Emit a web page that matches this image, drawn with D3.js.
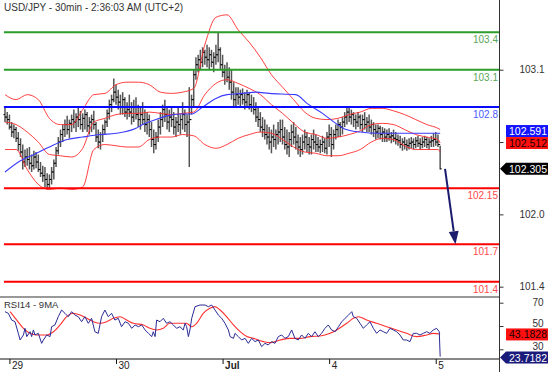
<!DOCTYPE html>
<html><head><meta charset="utf-8">
<script src="https://cdn.jsdelivr.net/npm/d3@7"></script>
<style>
body{margin:0;background:#fff}
svg{display:block}
text{font-family:"Liberation Sans",Arial,sans-serif}
</style>
</head><body>
<svg id="c" width="554" height="372"></svg>
<script>
// ---------- DATA ----------
const title = "USD/JPY - 30min - 2:36:03 AM (UTC+2)";
const firstOpen = 102.74;
const highs = [
102.80,102.76,102.74,102.68,102.66,102.64,102.60,102.55,102.50,102.46,
102.47,102.48,102.42,102.45,102.44,102.42,102.36,102.33,102.32,102.27,
102.26,102.32,102.38,102.48,102.56,102.62,102.66,102.70,102.73,102.70,
102.74,102.78,102.75,102.80,102.77,102.75,102.78,102.76,102.72,102.74,
102.77,102.68,102.62,102.60,102.66,102.70,102.78,102.86,102.90,103.03,
102.98,102.94,102.90,102.92,102.88,102.84,102.90,102.84,102.86,102.88,
102.82,102.80,102.84,102.78,102.76,102.74,102.68,102.62,102.60,102.70,
102.76,102.82,102.86,102.80,102.78,102.80,102.76,102.72,102.80,102.74,
102.84,102.78,102.74,102.96,102.90,103.10,103.20,103.22,103.26,103.28,
103.26,103.30,103.28,103.26,103.24,103.30,103.40,103.28,103.22,103.14,
103.16,103.12,103.10,103.00,102.96,102.96,102.94,102.95,102.92,102.94,
102.92,102.90,102.88,102.84,102.80,102.76,102.72,102.70,102.66,102.64,
102.62,102.66,102.62,102.68,102.70,102.70,102.64,102.62,102.60,102.66,
102.68,102.64,102.58,102.56,102.58,102.62,102.60,102.56,102.58,102.62,
102.58,102.56,102.54,102.57,102.55,102.60,102.66,102.64,102.62,102.66,
102.70,102.68,102.72,102.76,102.80,102.80,102.78,102.76,102.74,102.76,
102.74,102.74,102.76,102.72,102.74,102.70,102.68,102.66,102.66,102.65,
102.64,102.63,102.62,102.63,102.60,102.62,102.60,102.58,102.57,102.55,
102.56,102.54,102.55,102.56,102.55,102.56,102.57,102.55,102.56,102.57,
102.56,102.55,102.57,102.59,102.60,102.58,102.49];
const lows = [
102.68,102.66,102.62,102.56,102.55,102.52,102.45,102.40,102.30,102.32,
102.33,102.30,102.28,102.30,102.31,102.28,102.24,102.20,102.16,102.14,
102.14,102.18,102.22,102.32,102.42,102.48,102.52,102.56,102.58,102.55,
102.60,102.63,102.60,102.64,102.62,102.60,102.62,102.60,102.58,102.60,
102.62,102.52,102.47,102.46,102.52,102.58,102.64,102.70,102.76,102.84,
102.82,102.78,102.74,102.74,102.72,102.70,102.72,102.66,102.68,102.70,
102.64,102.62,102.66,102.60,102.58,102.56,102.48,102.43,102.46,102.52,
102.58,102.64,102.68,102.62,102.60,102.64,102.58,102.56,102.60,102.58,
102.62,102.60,102.56,102.32,102.74,102.80,103.02,103.08,103.10,103.12,
103.14,103.12,103.10,103.12,103.08,103.14,103.16,103.10,103.04,102.98,
103.00,102.94,102.86,102.80,102.80,102.82,102.80,102.82,102.78,102.80,
102.78,102.76,102.74,102.68,102.64,102.60,102.56,102.54,102.50,102.46,
102.43,102.48,102.46,102.50,102.52,102.50,102.46,102.42,102.40,102.48,
102.50,102.46,102.42,102.40,102.42,102.46,102.44,102.42,102.42,102.46,
102.44,102.44,102.43,102.44,102.43,102.42,102.48,102.40,102.46,102.54,
102.56,102.56,102.58,102.64,102.66,102.68,102.66,102.64,102.62,102.64,
102.62,102.60,102.62,102.60,102.60,102.58,102.56,102.54,102.55,102.54,
102.52,102.52,102.52,102.53,102.51,102.52,102.50,102.49,102.47,102.45,
102.46,102.45,102.46,102.47,102.46,102.47,102.48,102.46,102.47,102.48,
102.47,102.46,102.48,102.48,102.49,102.48,102.30];
const closes = [
102.72,102.70,102.64,102.60,102.62,102.55,102.50,102.44,102.36,102.40,
102.38,102.35,102.33,102.40,102.36,102.30,102.27,102.25,102.22,102.18,
102.22,102.28,102.35,102.45,102.52,102.58,102.62,102.66,102.62,102.67,
102.70,102.68,102.72,102.70,102.66,102.71,102.74,102.65,102.68,102.70,
102.66,102.56,102.52,102.58,102.62,102.68,102.75,102.82,102.86,102.92,
102.88,102.84,102.80,102.86,102.76,102.78,102.76,102.72,102.80,102.74,
102.70,102.74,102.70,102.66,102.70,102.62,102.54,102.50,102.56,102.64,
102.70,102.78,102.74,102.68,102.72,102.70,102.64,102.68,102.66,102.70,
102.74,102.66,102.68,102.70,102.86,103.06,103.14,103.18,103.16,103.24,
103.20,103.18,103.22,103.16,103.20,103.22,103.26,103.14,103.08,103.10,
103.04,103.00,102.92,102.86,102.90,102.88,102.90,102.86,102.84,102.90,
102.82,102.80,102.78,102.72,102.70,102.64,102.62,102.58,102.56,102.52,
102.56,102.54,102.58,102.60,102.62,102.56,102.50,102.48,102.54,102.60,
102.56,102.52,102.48,102.46,102.52,102.56,102.50,102.48,102.54,102.52,
102.50,102.48,102.50,102.52,102.47,102.56,102.58,102.50,102.58,102.62,
102.66,102.64,102.68,102.72,102.76,102.72,102.74,102.70,102.68,102.72,
102.66,102.70,102.66,102.68,102.64,102.66,102.62,102.60,102.63,102.58,
102.60,102.56,102.58,102.56,102.57,102.55,102.54,102.53,102.50,102.52,
102.50,102.49,102.51,102.52,102.50,102.53,102.51,102.50,102.52,102.54,
102.50,102.52,102.53,102.54,102.52,102.50,102.305];

// Bollinger bands at these bar indices
const bandIdx = [0,5,10,15,20,25,30,35,40,45,50,55,60,65,70,75,80,85,90,95,100,105,110,115,120,125,130,135,140,145,150,155,160,165,170,175,180,185,190,195,196];
const upperBand = [102.90,102.86,102.90,102.86,102.71,102.66,102.66,102.78,102.90,102.91,102.98,103.00,103.00,102.98,102.92,102.91,102.92,102.95,103.30,103.52,103.54,103.42,103.32,103.20,103.06,102.96,102.86,102.76,102.71,102.70,102.71,102.74,102.76,102.79,102.79,102.77,102.74,102.70,102.66,102.63,102.62];
const midBand = [102.68,102.66,102.60,102.52,102.42,102.41,102.40,102.47,102.68,102.71,102.74,102.75,102.75,102.76,102.75,102.74,102.75,102.76,102.90,102.99,103.02,102.99,102.95,102.90,102.82,102.75,102.67,102.60,102.58,102.55,102.56,102.58,102.61,102.66,102.67,102.66,102.62,102.58,102.56,102.54,102.512];
const lowerBand = [102.46,102.46,102.30,102.18,102.14,102.15,102.14,102.16,102.46,102.50,102.49,102.48,102.48,102.54,102.56,102.56,102.58,102.57,102.50,102.47,102.50,102.55,102.58,102.60,102.59,102.54,102.48,102.44,102.43,102.41,102.41,102.43,102.46,102.52,102.55,102.54,102.49,102.46,102.46,102.46,102.44];

// long moving average (blue)
const maIdx = [0,7,13,20,28,35,43,50,59,62,68,73,79,84,89,95,100,107,113,119,131,136,143,149,153,160,168,179,196];
const maVal = [102.28,102.37,102.42,102.48,102.54,102.56,102.58,102.59,102.63,102.66,102.70,102.73,102.745,102.745,102.80,102.87,102.90,102.91,102.92,102.91,102.90,102.83,102.75,102.67,102.625,102.60,102.59,102.59,102.591];

// RSI14 and its 9MA
const rsiIdx = [0,1.5,3,4.5,6,6.8,8.3,9,9.8,11.3,12,12.8,13.5,15,16.5,17.3,18.8,20.3,21,22.5,24,25.5,27,28.5,30,31.5,33,34.5,36,37.5,39,40.5,42,43.5,45,46.5,48,49.5,51,52.5,54.1,55.6,57.1,58.6,60.1,61.6,63.1,64.6,66.1,66.8,67.6,68.3,69.8,71.3,72.8,74.3,75.8,77.3,78.8,80.3,81.1,81.8,82.6,83.3,84.1,85.6,87.8,90.1,91.6,93.1,94.6,96.1,97.6,99.1,100.6,101.4,102.9,103.6,105.1,106.6,108.1,109.6,111.1,112.6,114.1,115.6,117.1,118.6,120.1,121.6,123.1,124.6,126.1,127.6,129.1,130.6,132.1,133.6,135.1,136.6,138.1,139.6,141.1,142.6,144.1,145.6,147.1,148.7,150.2,151.7,153.2,154.7,156.2,156.9,158.4,159.9,161.4,162.9,164.4,165.9,167.4,168.9,170.4,171.9,173.4,174.9,176.4,177.9,179.4,180.9,182.4,183.9,185.4,186.9,188.4,189.9,191.4,192.9,194.4,195.6,196];
const rsiVal = [62.3,60.9,55.1,53.7,43.7,38.0,42.3,48.0,40.9,45.1,40.9,46.6,42.3,43.7,35.1,38.0,42.3,40.9,49.4,50.9,58.0,63.7,60.9,58.0,62.3,59.4,58.0,53.7,58.0,52.3,56.6,45.1,43.7,58.0,63.7,58.0,60.9,55.1,56.6,49.4,53.7,52.3,48.0,50.9,49.4,50.9,46.6,43.7,40.9,45.1,40.9,55.1,53.7,56.6,52.3,53.7,50.9,48.0,49.4,46.6,52.3,49.4,40.9,46.6,56.6,66.6,68.0,68.0,66.6,68.0,63.7,59.4,56.6,52.3,46.6,40.9,39.4,43.7,40.9,38.0,39.4,35.1,39.4,36.6,38.0,32.3,35.1,33.7,36.6,35.1,40.9,42.3,39.4,40.9,46.6,39.4,38.0,42.3,39.4,43.7,40.9,45.1,40.9,43.7,48.0,50.9,46.6,45.1,49.4,53.7,56.6,59.4,62.3,58.0,56.6,52.3,48.0,50.9,53.7,48.0,43.7,46.6,45.1,43.7,48.0,46.6,45.1,42.3,38.0,38.0,36.6,43.7,43.7,42.3,43.7,45.1,43.7,46.6,48.0,45.1,23.7182];
const rsiMaIdx = [2.3,5.3,8.3,11.3,14.3,18.8,21.8,24.8,27.8,30.8,33.8,36.8,39.8,42.8,45.8,48.8,51.8,54.8,57.8,62.3,65.3,68.3,71.3,74.3,78.8,81.8,84.1,86.3,89.3,92.3,94.6,96.9,99.8,102.9,105.9,108.9,111.9,116.4,119.4,123.9,128.4,132.9,137.4,141.9,146.4,149.4,153.9,156.9,159.2,162.9,167.4,171.9,176.4,180.9,185.4,189.9,192.9,196];
const rsiMaVal = [62.3,55.1,48.0,43.7,42.3,42.3,45.1,50.9,58.0,60.9,59.4,56.6,53.7,52.3,53.7,56.6,58.0,55.1,52.3,50.9,48.0,46.6,48.0,52.3,52.3,52.3,49.4,52.3,60.9,65.2,66.6,63.7,58.0,50.9,45.1,40.9,39.4,36.6,35.7,38.0,39.4,39.4,40.9,41.4,43.7,46.6,52.3,56.6,58.0,55.1,52.3,49.4,46.6,43.7,40.9,42.3,43.7,43.1828];

// horizontal levels
const levels = [103.4, 103.1, 102.8, 102.15, 101.7, 101.4];
const levelLabels = ["103.4","103.1","102.8","102.15","101.7","101.4"];
const levelColors = ["#2a9d2a","#2a9d2a","#0a0aff","#ff0000","#ff0000","#ff0000"];
const levelTextColors = ["#5aa85a","#5aa85a","#4a5cff","#ff4a4a","#ff4a4a","#ff4a4a"];

// axes (the middle price tick's label is hidden by the value tags in the reference)
const priceTicks = [103.1, 102.52, 101.94, 101.36];
const priceTickLabels = ["103.1", "", "102.0", "101.4"];
const rsiTicks = [70, 50, 30];
const dayIdx = [2, 50, 98, 146, 194];
const dayLabels = ["29", "30", "Jul", "4", "5"];

// last values
const lastMa = 102.591, lastMid = 102.512, lastClose = 102.305;
const lastRsiMa = 43.1828, lastRsi = 23.7182;
// projected move arrow
const arrowFrom = {i: 198.2, p: 102.305};
const arrowTo = {i: 202.9, p: 101.7};

// ---------- DRAW ----------
const svg = d3.select("#c");
const plotRight = 499, sepY = 297, axisY = 359;
const x = d3.scaleLinear().domain([-2.25, 222.5]).range([0, plotRight]);
const yP = d3.scaleLinear().domain([101.4, 103.4]).range([281.7, 32.3]);
const yR = d3.scaleLinear().domain([30, 70]).range([349.3, 302.7]);

const defs = svg.append("defs");
defs.append("clipPath").attr("id","cp").append("rect").attr("x",0).attr("y",0).attr("width",plotRight).attr("height",sepY);
defs.append("clipPath").attr("id","cr").append("rect").attr("x",0).attr("y",sepY).attr("width",plotRight).attr("height",axisY-sepY);

const gP = svg.append("g").attr("clip-path","url(#cp)");
const opens = closes.map((c,i)=> i===0 ? firstOpen : closes[i-1]);

// bars
gP.append("g").selectAll("line").data(closes).join("line")
  .attr("x1",(d,i)=>x(i)).attr("x2",(d,i)=>x(i))
  .attr("y1",(d,i)=>yP(highs[i])).attr("y2",(d,i)=>yP(lows[i]))
  .attr("stroke","#555").attr("stroke-width",1.5);
gP.append("g").selectAll("line").data(opens).join("line")
  .attr("x1",(d,i)=>x(i)-1.5).attr("x2",(d,i)=>x(i))
  .attr("y1",d=>yP(d)).attr("y2",d=>yP(d))
  .attr("stroke","#000").attr("stroke-width",1);
gP.append("g").selectAll("line").data(closes).join("line")
  .attr("x1",(d,i)=>x(i)).attr("x2",(d,i)=>x(i)+1.5)
  .attr("y1",d=>yP(d)).attr("y2",d=>yP(d))
  .attr("stroke","#000").attr("stroke-width",1);

// bands
const lineP = d3.line().x(d=>x(d[0])).y(d=>yP(d[1])).curve(d3.curveMonotoneX);
[upperBand, midBand, lowerBand].forEach(arr=>{
  gP.append("path").attr("d", lineP(bandIdx.map((v,k)=>[v,arr[k]])))
    .attr("fill","none").attr("stroke","#ff2a2a").attr("stroke-width",1).attr("stroke-opacity",0.9);
});
gP.append("path").attr("d", lineP(maIdx.map((v,k)=>[v,maVal[k]])))
  .attr("fill","none").attr("stroke","#3a3aff").attr("stroke-width",1.1);

// levels
levels.forEach((lv,k)=>{
  svg.append("line").attr("x1",x(-0.5)).attr("x2",plotRight)
    .attr("y1",yP(lv)).attr("y2",yP(lv))
    .attr("stroke",levelColors[k]).attr("stroke-width",2);
  svg.append("text").attr("x",plotRight-1).attr("y",yP(lv)+11)
    .attr("text-anchor","end").attr("font-size",10).attr("fill",levelTextColors[k])
    .text(levelLabels[k]);
});

// arrow
const ax1 = x(arrowFrom.i), ay1 = yP(arrowFrom.p), ax2 = x(arrowTo.i), ay2 = yP(arrowTo.p);
const ang = Math.atan2(ay2-ay1, ax2-ax1), hl = 13, hw = 5;
const bx = ax2 - hl*Math.cos(ang), by = ay2 - hl*Math.sin(ang);
svg.append("line").attr("x1",ax1).attr("y1",ay1).attr("x2",bx).attr("y2",by)
  .attr("stroke","#1a1a6e").attr("stroke-width",2);
svg.append("polygon").attr("points",[
  [ax2,ay2],[bx + hw*Math.sin(ang), by - hw*Math.cos(ang)],[bx - hw*Math.sin(ang), by + hw*Math.cos(ang)]
].map(p=>p.join(",")).join(" ")).attr("fill","#1a1a6e");

// RSI pane
const gR = svg.append("g").attr("clip-path","url(#cr)");
const lineR = d3.line().x(d=>x(d[0])).y(d=>yR(d[1])).curve(d3.curveLinear);
gR.append("path").attr("d", d3.line().x(d=>x(d[0])).y(d=>yR(d[1])).curve(d3.curveMonotoneX)(rsiMaIdx.map((v,k)=>[v,rsiMaVal[k]])))
  .attr("fill","none").attr("stroke","#ff3030").attr("stroke-width",1.1);
gR.append("path").attr("d", lineR(rsiIdx.map((v,k)=>[v,rsiVal[k]])))
  .attr("fill","none").attr("stroke","#2b2b96").attr("stroke-width",1);

// frame lines
svg.append("line").attr("x1",0).attr("x2",plotRight).attr("y1",sepY).attr("y2",sepY).attr("stroke","#777").attr("stroke-width",1.5);
svg.append("line").attr("x1",0).attr("x2",plotRight).attr("y1",axisY).attr("y2",axisY).attr("stroke","#111").attr("stroke-width",1);
svg.append("line").attr("x1",plotRight+0.5).attr("x2",plotRight+0.5).attr("y1",0).attr("y2",372).attr("stroke","#333").attr("stroke-width",1);

// price axis
const pAxis = svg.append("g").attr("transform",`translate(${plotRight+0.5},0)`)
  .call(d3.axisRight(yP).tickValues(priceTicks).tickSize(4).tickFormat((d,i)=>priceTickLabels[i]));
pAxis.select(".domain").remove();
pAxis.selectAll("text").attr("x",45).attr("text-anchor","end").attr("font-size",10).attr("fill","#333").attr("font-family","Liberation Sans, Arial, sans-serif");
pAxis.selectAll("line").attr("stroke","#333");

// RSI axis: 50 and 30 labels sit just above the value tags
const rAxis = svg.append("g").attr("transform",`translate(${plotRight+0.5},0)`)
  .call(d3.axisRight(yR).tickValues(rsiTicks).tickSize(4).tickFormat(d3.format("d")));
rAxis.select(".domain").remove();
rAxis.selectAll("text").attr("x",44).attr("text-anchor","end").attr("font-size",10).attr("fill","#333")
  .attr("font-family","Liberation Sans, Arial, sans-serif")
  .attr("dy",d=> d===70 ? "0.32em" : "0.05em");
rAxis.selectAll("line").attr("stroke","#333");

// time axis
const tAxis = svg.append("g").attr("transform",`translate(0,${axisY})`)
  .call(d3.axisBottom(x).tickValues(dayIdx).tickSize(5).tickFormat((d,i)=>dayLabels[i]));
tAxis.select(".domain").remove();
tAxis.selectAll("line").attr("stroke","#111");
tAxis.selectAll("text").attr("text-anchor","start").attr("x",2).attr("y",3).attr("dy","0.71em")
  .attr("font-size",10).attr("fill","#222").attr("font-family","Liberation Sans, Arial, sans-serif")
  .attr("font-weight",(d,i)=>dayLabels[i]==="Jul"?"bold":"normal");

// titles
svg.append("text").attr("x",4).attr("y",11).attr("font-size",10).attr("fill","#333").text(title);
svg.append("text").attr("x",4).attr("y",308).attr("font-size",9.5).attr("fill","#333").text("RSI14 - 9MA");

// value tags
function tag(yc, label, bg, fg, pointed){
  const g = svg.append("g");
  if(pointed){
    g.append("polygon").attr("points",`${plotRight+1},${yc} ${plotRight+7},${yc-6} 548,${yc-6} 548,${yc+6} ${plotRight+7},${yc+6}`).attr("fill",bg);
  } else {
    g.append("rect").attr("x",506).attr("y",yc-6).attr("width",42).attr("height",12).attr("fill",bg);
  }
  g.append("text").attr("x",547).attr("y",yc+4).attr("text-anchor","end").attr("font-size",10.5).attr("fill",fg).text(label);
}
const yMid = yP(lastMid);
tag(yMid-12, d3.format(".3f")(lastMa), "#1414ff", "#fff", false);
tag(yMid, d3.format(".3f")(lastMid), "#ff1010", "#200000", false);
tag(yP(lastClose), d3.format(".3f")(lastClose), "#000", "#fff", true);
tag(yR(lastRsiMa)+0.5, d3.format(".4f")(lastRsiMa), "#ff1010", "#200000", false);
tag(yR(lastRsi)+1, d3.format(".4f")(lastRsi), "#1a1a7a", "#fff", true);
</script>
</body></html>
